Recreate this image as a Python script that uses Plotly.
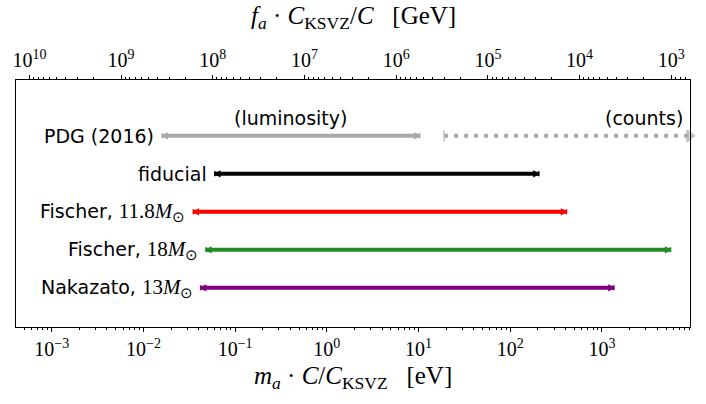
import numpy as np
import plotly.graph_objects as go

# axion mass ranges [eV] excluded by each SN model
labels = ["PDG (2016)", "fiducial", "Fischer, 11.8M☉", "Fischer, 18M☉", "Nakazato, 13M☉"]
label_math = ["", "", "11.8", "18", "13"]
ypos = [4, 3, 2, 1, 0]
m_lo = [0.016, 0.060, 0.035, 0.048, 0.042]
m_hi = [10.3, 205.0, 410.0, 5600.0, 1350.0]
colors = ["darkgray", "black", "red", "forestgreen", "purple"]

# PDG "counts" bound, dotted, runs off the right edge
counts_lo = 19.0
counts_hi = 9000.0

# f_a * m_a = 5.7e6 GeV eV
fa_ma = 5.7e6
m_range = [-3.39, 3.96]
bottom_exp = [-3, -2, -1, 0, 1, 2, 3]
top_exp = [10, 9, 8, 7, 6, 5, 4, 3]

SERIF = "Liberation Serif"
SANS = "DejaVu Sans"
FS = 19


def math_label(lab, num):
    if not num:
        return lab
    name = lab.split(",")[0]
    return (name + ", <span style='font-family:%s;font-size:%dpx'>%s<i>M</i><sub>⊙</sub></span>"
            % (SERIF, FS + 2, num))


fig = go.Figure()

for lab, y, lo, hi, c in zip(labels, ypos, m_lo, m_hi, colors):
    fig.add_trace(go.Scatter(
        x=[lo, hi], y=[y, y], mode="lines+markers", name=lab,
        line=dict(color=c, width=4),
        marker=dict(symbol=["arrow-bar-left", "arrow-bar-right"], size=5,
                    color=c, line=dict(color=c, width=1.5)),
        hoverinfo="skip",
    ))

fig.add_trace(go.Scatter(
    x=[counts_lo, counts_hi], y=[ypos[0], ypos[0]], mode="lines",
    line=dict(color="darkgray", width=4, dash="4px,6px"),
    hoverinfo="skip",
))
fig.add_trace(go.Scatter(
    x=[counts_lo, counts_hi], y=[ypos[0], ypos[0]], mode="markers",
    marker=dict(symbol=["line-ns", "triangle-right"], size=[8, 10],
                color="darkgray", line=dict(color="darkgray", width=1.5)),
    hoverinfo="skip", cliponaxis=False,
))
# empty trace to hold the top axis
fig.add_trace(go.Scatter(x=[], y=[], xaxis="x2", hoverinfo="skip"))

for lab, num, y, lo in zip(labels, label_math, ypos, m_lo):
    fig.add_annotation(x=np.log10(lo), y=y, text=math_label(lab, num), showarrow=False,
                       xanchor="right", yanchor="middle", xshift=-6,
                       font=dict(family=SANS, size=FS, color="black"))

fig.add_annotation(x=(np.log10(m_lo[0]) + np.log10(m_hi[0])) / 2, y=ypos[0],
                   text="(luminosity)", showarrow=False, yanchor="bottom", yshift=5,
                   font=dict(family=SANS, size=FS, color="black"))
fig.add_annotation(x=np.log10(counts_hi), y=ypos[0], text="(counts)", showarrow=False,
                   xanchor="right", yanchor="bottom", yshift=5, xshift=-4,
                   font=dict(family=SANS, size=FS, color="black"))

fig.add_annotation(xref="paper", yref="paper", x=0.5, y=-0.205, yanchor="middle",
                   text="<i>m</i><sub><i>a</i></sub> · <i>C</i>/<i>C</i><sub>KSVZ</sub>   [eV]",
                   showarrow=False, font=dict(family=SERIF, size=25, color="black"))
fig.add_annotation(xref="paper", yref="paper", x=0.5, y=1.255, yanchor="middle",
                   text="<i>f</i><sub><i>a</i></sub> · <i>C</i><sub>KSVZ</sub>/<i>C</i>   [GeV]",
                   showarrow=False, font=dict(family=SERIF, size=25, color="black"))

axis_common = dict(
    type="log", showgrid=False, zeroline=False, automargin=False,
    ticks="outside", ticklen=4, tickwidth=1, tickcolor="black",
    minor=dict(ticks="outside", ticklen=2, tickwidth=1, tickcolor="black", dtick="D1", showgrid=False),
    showline=True, linecolor="black", linewidth=1,
    tickfont=dict(family=SERIF, size=20, color="black"),
)

fig.update_layout(
    width=706, height=404,
    margin=dict(l=16, r=16, t=80, b=77),
    paper_bgcolor="white", plot_bgcolor="white",
    showlegend=False,
    xaxis=dict(range=m_range, side="bottom",
               tickvals=[10.0 ** e for e in bottom_exp],
               ticktext=["10<sup>%s</sup>" % str(e).replace("-", "−") for e in bottom_exp],
               **axis_common),
    xaxis2=dict(range=[np.log10(fa_ma) - m_range[0], np.log10(fa_ma) - m_range[1]],
                overlaying="x", side="top", anchor="y",
                tickvals=[10.0 ** e for e in top_exp],
                ticktext=["10<sup>%d</sup>" % e for e in top_exp],
                **axis_common),
    yaxis=dict(range=[-1.03, 5.47], showticklabels=False, ticks="", showgrid=False,
               zeroline=False, automargin=False, showline=True, mirror=True,
               linecolor="black", linewidth=1),
)

fig.write_html("out.html", config={"displayModeBar": False},
               post_script="document.body.style.margin='0';")
